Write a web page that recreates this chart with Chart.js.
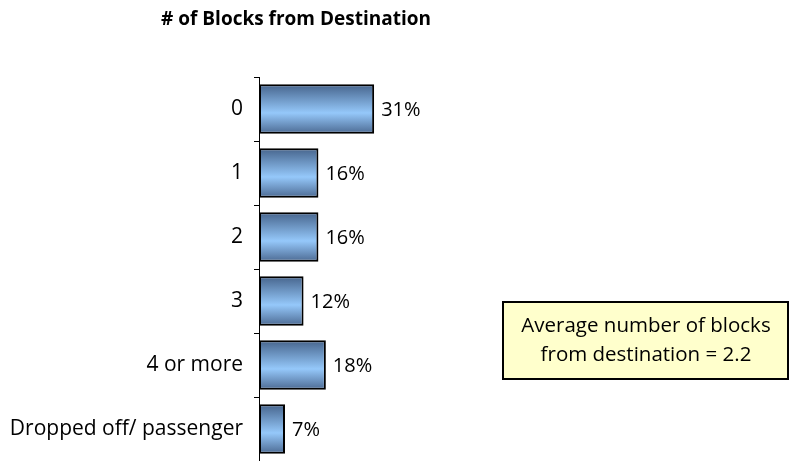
<!DOCTYPE html>
<html>
<head>
<meta charset="utf-8">
<script src="https://cdn.jsdelivr.net/npm/chart.js@4"></script>
<style>
  html, body { margin: 0; padding: 0; background: #fff; }
  #wrap { width: 796px; height: 461px; position: relative; }
</style>
</head>
<body>
<div id="wrap"><canvas id="myChart" width="796" height="461"></canvas></div>
<script>
const categories = ["0", "1", "2", "3", "4 or more", "Dropped off/ passenger"];
const shares = [31, 16, 16, 12, 18, 7];
const chartTitle = "# of Blocks from Destination";
const noteLines = ["Average number of blocks", "from destination = 2.2"];

const FONT = "'Open Sans', 'Noto Sans', sans-serif";
const BAR_PCT = 0.77;

// gradient for each bar, dark at the edges, light band a bit below middle
function barFill(c) {
  const chart = c.chart;
  const yScale = chart.scales.y;
  if (!yScale || !chart.chartArea) return "#7fa8d8";
  const step = yScale.height / categories.length;
  const h = step * BAR_PCT;
  const top = yScale.getPixelForValue(c.dataIndex) - h / 2;
  const g = chart.ctx.createLinearGradient(0, top, 0, top + h);
  g.addColorStop(0, "#46648c");
  g.addColorStop(0.58, "#95c8fa");
  g.addColorStop(1, "#4c6a93");
  return g;
}

const valueLabels = {
  id: "valueLabels",
  afterDatasetsDraw(chart) {
    const ctx = chart.ctx;
    ctx.save();
    ctx.font = "20px " + FONT;
    ctx.fillStyle = "#000";
    ctx.textBaseline = "middle";
    ctx.textAlign = "left";
    chart.getDatasetMeta(0).data.forEach(function (bar, i) {
      ctx.fillText(shares[i] + "%", bar.x + 7, bar.y + 1);
    });
    ctx.restore();
  }
};

const extras = {
  id: "extras",
  afterDraw(chart) {
    const ctx = chart.ctx;
    ctx.save();
    ctx.font = "bold 19px " + FONT;
    ctx.fillStyle = "#000";
    ctx.textAlign = "center";
    ctx.textBaseline = "alphabetic";
    ctx.fillText(chartTitle, 296, 25);

    // note box
    ctx.fillStyle = "#ffffcc";
    ctx.fillRect(503, 302, 285, 77);
    ctx.strokeStyle = "#000";
    ctx.lineWidth = 2;
    ctx.strokeRect(503, 302, 285, 77);
    ctx.fillStyle = "#000";
    ctx.font = "20.5px " + FONT;
    ctx.fillText(noteLines[0], 646, 332);
    ctx.fillText(noteLines[1], 646, 361);
    ctx.restore();
  }
};

new Chart(document.getElementById("myChart").getContext("2d"), {
  type: "bar",
  data: {
    labels: categories,
    datasets: [{
      data: shares,
      backgroundColor: barFill,
      borderColor: "#000",
      borderWidth: 2,
      borderSkipped: false,
      barPercentage: BAR_PCT,
      categoryPercentage: 1
    }]
  },
  options: {
    indexAxis: "y",
    responsive: false,
    animation: false,
    maintainAspectRatio: false,
    layout: { autoPadding: false, padding: { left: 0, right: 407, top: 77, bottom: 0 } },
    plugins: {
      legend: { display: false },
      title: { display: false },
      tooltip: { enabled: false }
    },
    scales: {
      x: { display: false, min: 0, max: 35 },
      y: {
        afterFit: function (scale) {
          scale.width = 259;
          scale.paddingTop = 0;
          scale.paddingBottom = 0;
        },
        border: { display: true, color: "#000", width: 1 },
        grid: {
          offset: true,
          drawOnChartArea: false,
          drawTicks: true,
          tickLength: 5,
          color: "#000"
        },
        ticks: {
          color: "#000",
          padding: 11,
          font: { family: FONT, size: 21 }
        }
      }
    }
  },
  plugins: [valueLabels, extras]
});
</script>
</body>
</html>
